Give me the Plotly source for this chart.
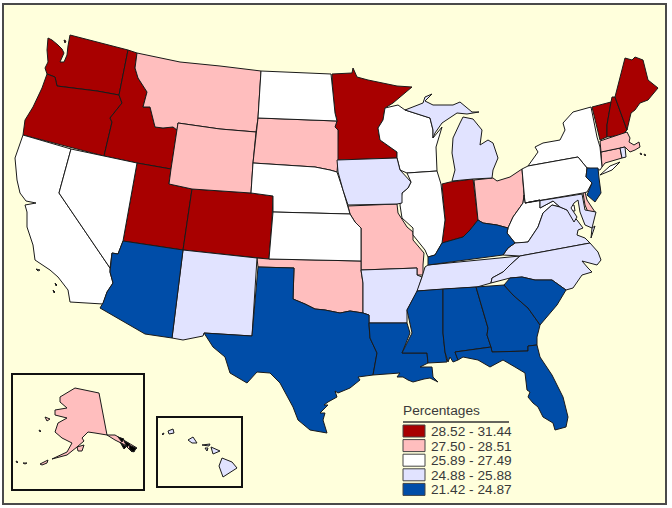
import plotly.graph_objects as go

BG_COLOR = "#FFFFDC"
LINE_COLOR = "#1A1A1A"
TEXT_COLOR = "#3A3A3A"
FONT = "Liberation Sans"

# legend, top to bottom
BIN_LABELS = ["28.52 - 31.44", "27.50 - 28.51", "25.89 - 27.49", "24.88 - 25.88", "21.42 - 24.87"]
BIN_COLORS = ["#A80000", "#FFBEBE", "#FFFFFF", "#E1E3FF", "#004DA8"]

BIN_STATES = [
    ["WA", "OR", "ID", "UT", "CO", "MN", "IN", "VT", "NH", "ME"],
    ["MT", "WY", "SD", "MO", "OK", "OH", "CT", "MA", "DE", "AK"],
    ["CA", "NV", "ND", "NE", "KS", "WI", "IL", "NY", "PA", "WV", "DC"],
    ["NM", "IA", "AR", "MI", "TN", "VA", "NC", "MD", "HI", "RI"],
    ["AZ", "TX", "LA", "MS", "AL", "GA", "FL", "SC", "KY", "NJ"],
]

# outlines, in picture pixels. None starts a new part
WA = [(48, 38), (52, 40), (58, 45), (62, 49), (64, 53), (60, 62), (64, 62), (67, 55), (68, 46), (70, 35),
      (128, 50), (119, 95), (97, 91), (72, 88), (57, 86), (55, 77), (47, 74), (45, 68), (48, 62), (47, 50), None,
      (64, 40), (66, 41), (65, 43)]
OR = [(47, 74), (55, 77), (57, 86), (72, 88), (97, 91), (119, 95), (122, 103), (110, 118), (112, 122), (104, 156),
      (23, 135), (25, 120), (33, 107), (42, 88)]
ID = [(128, 50), (137, 53), (135, 68), (138, 78), (147, 92), (143, 107), (150, 107), (155, 127), (163, 128),
      (173, 127), (177, 130), (171, 169), (137, 163), (104, 156), (112, 122), (110, 118), (122, 103), (119, 95)]
MT = [(137, 53), (180, 62), (220, 66), (261, 71), (258, 118), (256, 132), (220, 129), (178, 123), (177, 130),
      (173, 127), (163, 128), (155, 127), (150, 107), (143, 107), (147, 92), (138, 78), (135, 68)]
WY = [(178, 123), (220, 129), (256, 132), (253, 163), (251, 193), (192, 189), (169, 184), (171, 169)]
UT = [(137, 163), (171, 169), (169, 184), (192, 189), (183, 250), (123, 241)]
CO = [(192, 189), (251, 193), (273, 196), (272, 220), (269, 259), (183, 250)]
NM = [(183, 250), (257, 258), (252, 336), (204, 333), (203, 336), (183, 340), (172, 338)]
AZ = [(123, 241), (183, 250), (172, 338), (145, 334), (100, 308), (103, 303), (107, 292), (113, 283), (110, 272),
      (111, 260), (112, 253), (118, 254)]
NV = [(71, 149), (104, 156), (137, 163), (123, 241), (118, 254), (112, 253), (111, 260), (110, 268), (59, 193)]
CA = [(23, 135), (71, 149), (59, 193), (110, 268), (110, 272), (113, 283), (107, 292), (103, 304), (70, 302),
      (68, 290), (58, 277), (50, 270), (35, 260), (33, 245), (27, 227), (27, 212), (25, 205), (36, 203), (26, 201),
      (20, 193), (17, 180), (15, 158), None,
      (36, 269), (40, 270), (38, 271), None, (55, 283), (57, 285), (56, 286), None, (53, 290), (55, 292), (54, 293)]
ND = [(261, 71), (331, 74), (333, 93), (335, 113), (337, 121), (258, 118)]
SD = [(258, 118), (337, 121), (335, 127), (338, 130), (338, 160), (337, 172), (330, 170), (315, 167), (253, 163)]
NE = [(253, 163), (315, 167), (330, 170), (337, 172), (343, 190), (347, 205), (350, 214), (273, 212), (273, 196),
      (251, 193)]
KS = [(273, 212), (350, 214), (355, 222), (361, 228), (361, 261), (269, 259)]
OK = [(257, 258), (269, 259), (361, 261), (361, 270), (363, 283), (363, 313), (350, 311), (340, 313), (325, 310),
      (315, 309), (305, 304), (293, 299), (294, 268), (258, 267)]
TX = [(258, 267), (294, 268), (293, 299), (305, 304), (315, 309), (325, 310), (340, 313), (350, 311), (363, 313),
      (369, 315), (369, 325), (370, 338), (377, 353), (373, 375), (358, 377), (360, 380), (350, 388), (338, 393),
      (335, 391), (337, 397), (328, 402), (324, 405), (328, 405), (320, 413), (325, 413), (323, 420), (327, 433),
      (310, 430), (298, 420), (293, 407), (280, 383), (270, 373), (257, 372), (247, 383), (230, 373),
      (225, 357), (213, 347), (204, 333), (252, 336)]
LA = [(369, 323), (407, 323), (410, 333), (402, 353), (427, 353), (428, 363), (420, 367), (432, 367), (433, 377),
      (438, 382), (430, 378), (424, 379), (413, 382), (408, 380), (403, 377), (397, 377), (400, 373), (380, 375),
      (373, 375), (377, 353), (370, 338)]
AR = [(361, 270), (417, 268), (417, 275), (422, 277), (418, 290), (407, 310), (407, 323), (369, 323), (369, 315),
      (363, 313), (363, 283)]
MO = [(348, 206), (397, 204), (398, 213), (407, 227), (413, 232), (413, 240), (424, 253), (423, 265), (423, 275),
      (417, 275), (417, 268), (361, 270), (361, 228), (355, 222), (350, 214)]
IA = [(337, 160), (397, 158), (400, 170), (411, 182), (408, 188), (402, 193), (402, 203), (397, 204), (348, 205),
      (343, 190), (338, 172)]
MN = [(332, 74), (352, 73), (353, 68), (357, 77), (368, 80), (383, 83), (397, 86), (412, 87), (393, 103), (385, 108),
      (383, 120), (378, 128), (380, 140), (397, 152), (397, 158), (337, 160), (338, 130), (335, 127), (337, 121),
      (335, 113), (333, 93)]
WI = [(385, 108), (398, 105), (405, 110), (430, 118), (433, 130), (433, 138), (442, 127), (436, 147), (437, 171),
      (407, 173), (400, 170), (397, 158), (397, 152), (380, 140), (378, 128), (383, 120)]
MI = [(405, 110), (423, 103), (425, 97), (432, 94), (425, 101), (433, 105), (453, 105), (460, 102), (472, 112),
      (479, 112), (467, 114), (457, 113), (442, 123), (435, 133), (433, 138), (433, 130), (430, 118), None,
      (463, 117), (473, 119), (482, 130), (480, 145), (488, 140), (493, 143), (498, 158), (493, 170), (492, 178),
      (473, 179), (452, 181), (455, 170), (452, 153), (453, 138), (460, 123)]
IL = [(407, 173), (437, 171), (441, 184), (445, 220), (442, 243), (435, 255), (428, 257), (425, 250), (413, 235),
      (413, 228), (402, 218), (400, 205), (402, 193), (408, 188), (411, 182)]
IN = [(442, 184), (450, 182), (473, 179), (478, 220), (470, 230), (463, 237), (442, 243), (445, 220)]
OH = [(474, 180), (493, 178), (497, 181), (510, 177), (522, 169), (524, 195), (523, 203), (513, 217), (508, 228),
      (497, 225), (483, 223), (478, 220)]
KY = [(478, 220), (483, 223), (497, 225), (508, 228), (507, 233), (515, 243), (508, 248), (503, 255), (428, 265),
      (428, 257), (435, 255), (442, 243), (463, 237), (470, 230)]
WV = [(524, 195), (525, 203), (540, 200), (540, 208), (553, 201), (560, 207), (552, 205), (543, 213), (538, 227),
      (528, 242), (520, 243), (515, 243), (507, 233), (508, 228), (513, 217), (523, 203)]
VA = [(503, 255), (508, 248), (515, 243), (528, 242), (538, 227), (543, 213), (552, 205), (560, 207), (567, 210),
      (572, 215), (577, 220), (583, 228), (578, 230), (577, 235), (585, 238), (590, 243), (520, 256), None,
      (592, 228), (595, 226), (591, 238)]
MD = [(525, 203), (582, 194), (585, 210), (596, 212), (592, 228), (585, 225), (580, 212), (578, 200), (574, 203),
      (571, 208), (577, 217), (574, 222), (567, 210), (560, 207), (553, 201), (540, 208), (540, 200)]
DC = [(569, 206), (574, 205), (575, 211), (570, 211)]
DE = [(583, 193), (585, 192), (587, 200), (595, 212), (588, 212), (585, 205)]
NJ = [(587, 168), (598, 168), (599, 178), (601, 193), (595, 202), (587, 195), (592, 183), (586, 177)]
PA = [(522, 169), (528, 166), (578, 157), (583, 163), (587, 168), (586, 177), (592, 183), (587, 192), (583, 193),
      (525, 203)]
NY = [(528, 166), (538, 152), (535, 147), (543, 143), (560, 140), (565, 130), (563, 123), (573, 112), (591, 107),
      (597, 137), (600, 147), (602, 167), (600, 170), (587, 168), (578, 157), None,
      (600, 175), (610, 166), (620, 162), (612, 170)]
VT = [(592, 107), (611, 102), (607, 125), (607, 137), (600, 140), (597, 127)]
NH = [(611, 102), (612, 97), (615, 97), (627, 130), (622, 135), (607, 137), (607, 125)]
ME = [(615, 97), (620, 78), (625, 58), (632, 60), (635, 57), (643, 60), (648, 80), (658, 88), (648, 100), (640, 103),
      (635, 110), (631, 113), (627, 130)]
MA = [(600, 141), (627, 132), (630, 138), (629, 142), (634, 145), (639, 142), (640, 147), (635, 150), (630, 152),
      (625, 147), (601, 152), None,
      (640, 153), (642, 154), (641, 155), None, (644, 154), (646, 155), (645, 156)]
CT = [(601, 152), (620, 148), (622, 158), (605, 163), (602, 167), (601, 157)]
RI = [(620, 148), (625, 147), (626, 157), (622, 158)]
NC = [(520, 256), (590, 243), (598, 252), (601, 260), (597, 265), (590, 263), (582, 261), (588, 268), (592, 272),
      (582, 275), (573, 288), (566, 290), (552, 280), (535, 280), (522, 277), (510, 278), (491, 283), (492, 278),
      (503, 272), (510, 265)]
TN = [(428, 265), (520, 256), (510, 265), (503, 272), (492, 278), (491, 283), (477, 287), (443, 289), (417, 291),
      (422, 277), (425, 267)]
MS = [(417, 291), (443, 289), (443, 333), (445, 352), (447, 362), (433, 363), (428, 363), (427, 353), (402, 353),
      (412, 333), (407, 310)]
AL = [(443, 289), (476, 287), (488, 328), (487, 335), (491, 347), (455, 352), (458, 360), (453, 362), (450, 357),
      (448, 362), (445, 352), (443, 333)]
GA = [(476, 287), (504, 285), (513, 295), (528, 308), (538, 322), (540, 325), (537, 337), (537, 345), (528, 346),
      (528, 351), (492, 352), (491, 347), (487, 335), (488, 328)]
SC = [(504, 285), (510, 278), (522, 277), (535, 280), (552, 280), (566, 290), (557, 305), (547, 317), (540, 325),
      (538, 322), (528, 308), (513, 295)]
FL = [(455, 352), (491, 347), (492, 352), (528, 351), (528, 346), (537, 345), (540, 357), (552, 375), (563, 397),
      (568, 417), (566, 427), (555, 430), (553, 423), (543, 417), (538, 407), (533, 403), (528, 397), (530, 392),
      (527, 390), (525, 373), (515, 367), (503, 360), (490, 367), (478, 360), (463, 357), (458, 360)]
AK = [(75, 388), (99, 393), (107, 435), (115, 435), (132, 445), (137, 448), (132, 452), (125, 445), (115, 440),
      (107, 435), (95, 433), (88, 432), (82, 438), (84, 441), (77, 447), (67, 455), (52, 459), (67, 452), (72, 443),
      (62, 438), (55, 432), (58, 423), (67, 418), (55, 415), (55, 410), (67, 408), (60, 402), (60, 397), None,
      (45, 417), (50, 419), (47, 421), None, (39, 430), (41, 431), (40, 432), None,
      (77, 447), (84, 445), (82, 451), (78, 451), None,
      (40, 464), (48, 460), (47, 463), (42, 465), None,
      (16, 461), (18, 462), (17, 463), None, (23, 463), (27, 463), (25, 464)]
AK_PANHANDLE = [(118, 437), (124, 439), (122, 442), None, (124, 441), (130, 444), (127, 447), None,
                (129, 445), (136, 448), (134, 452), (130, 450), None, (120, 442), (126, 447), (124, 449)]
HI = [(222, 458), (232, 462), (237, 468), (223, 477), (219, 466), None,
      (211, 447), (220, 451), (213, 454), None,
      (188, 440), (193, 437), (197, 443), (192, 443), None,
      (168, 431), (173, 429), (174, 433), (169, 434), None,
      (162, 434), (164, 433), (163, 435), None,
      (202, 445), (210, 444), (209, 446), None,
      (205, 448), (208, 448), (207, 451)]

OUTLINES = {
    "WA": WA, "OR": OR, "ID": ID, "MT": MT, "WY": WY, "UT": UT, "CO": CO, "NM": NM, "AZ": AZ, "NV": NV, "CA": CA,
    "ND": ND, "SD": SD, "NE": NE, "KS": KS, "OK": OK, "TX": TX, "LA": LA, "AR": AR, "MO": MO, "IA": IA, "MN": MN,
    "WI": WI, "MI": MI, "IL": IL, "IN": IN, "OH": OH, "KY": KY, "WV": WV, "VA": VA, "MD": MD, "DC": DC, "DE": DE,
    "NJ": NJ, "PA": PA, "NY": NY, "VT": VT, "NH": NH, "ME": ME, "MA": MA, "CT": CT, "RI": RI, "NC": NC, "TN": TN,
    "MS": MS, "AL": AL, "GA": GA, "SC": SC, "FL": FL, "AK": AK, "HI": HI,
}


def add_outline(fig, points, fill, name):
    xs = [p[0] if p else None for p in points]
    ys = [p[1] if p else None for p in points]
    # close each part so the line goes all the way round
    closed_x, closed_y, start = [], [], 0
    for i in range(len(xs) + 1):
        if i == len(xs) or xs[i] is None:
            closed_x += xs[start:i] + [xs[start], None]
            closed_y += ys[start:i] + [ys[start], None]
            start = i + 1
    fig.add_trace(go.Scatter(
        x=closed_x, y=closed_y, mode="lines", fill="toself", fillcolor=fill,
        line=dict(color=LINE_COLOR, width=1), name=name, hoverinfo="name",
    ))


fig = go.Figure()

for color, label, states in zip(BIN_COLORS, BIN_LABELS, BIN_STATES):
    for state in states:
        add_outline(fig, OUTLINES[state], color, f"{state}: {label}")
add_outline(fig, AK_PANHANDLE, "black", "AK")

# frame and the two inset boxes
fig.add_shape(type="rect", x0=3, y0=4, x1=666, y1=504, fillcolor=BG_COLOR,
              line=dict(color="#4A4A4A", width=2), layer="below")
fig.add_shape(type="rect", x0=12, y0=374, x1=144, y1=490, line=dict(color="#111111", width=2))
fig.add_shape(type="rect", x0=157, y0=417, x1=242, y1=487, line=dict(color="#111111", width=2))

# legend drawn by hand, the original is a block of swatches under a ruled title
fig.add_annotation(x=400.5, y=410, text="Percentages", showarrow=False, xanchor="left", yanchor="middle",
                   font=dict(family=FONT, size=13.7, color=TEXT_COLOR))
fig.add_shape(type="line", x0=403, y0=422, x1=509, y1=422, line=dict(color="#333333", width=1.5))
for i, (color, label) in enumerate(zip(BIN_COLORS, BIN_LABELS)):
    top = 425 + i * 14.6
    fig.add_shape(type="rect", x0=403, y0=top, x1=425, y1=top + 12, fillcolor=color,
                  line=dict(color="#444444", width=1))
    fig.add_annotation(x=429, y=top + 6.5, text=label, showarrow=False, xanchor="left", yanchor="middle",
                       font=dict(family=FONT, size=13.7, color=TEXT_COLOR))

fig.update_xaxes(range=[0, 672], visible=False, fixedrange=True)
fig.update_yaxes(range=[508, 0], visible=False, fixedrange=True)
fig.update_layout(
    width=672, height=508, paper_bgcolor="white", plot_bgcolor="white",
    margin=dict(l=0, r=0, t=0, b=0), showlegend=False, hovermode="closest",
)
fig.write_html("out.html", post_script="document.body.style.margin='0';", config=dict(displayModeBar=False))
